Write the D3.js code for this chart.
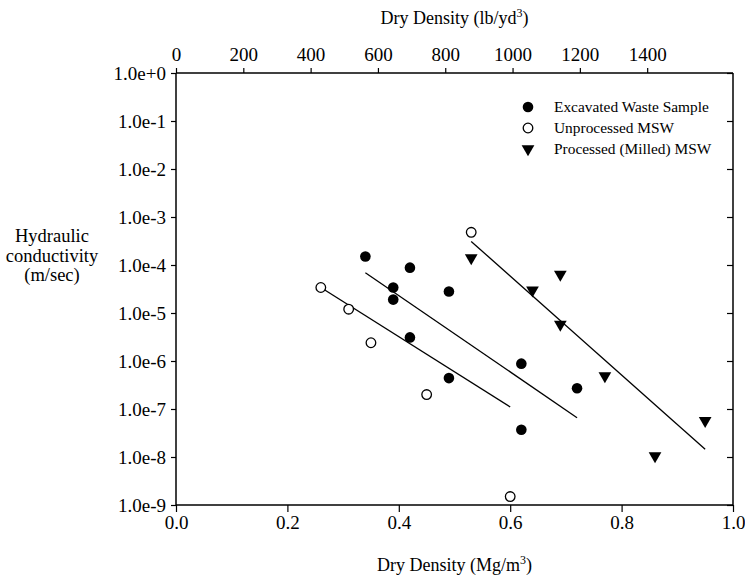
<!DOCTYPE html>
<html>
<head>
<meta charset="utf-8">
<script src="https://cdn.jsdelivr.net/npm/d3@7"></script>
<style>
  html, body { margin: 0; padding: 0; background: #fff; }
  svg { display: block; }
  text { font-family: "Times New Roman", "Liberation Serif", serif; fill: #000; }
</style>
</head>
<body>
<svg id="chart" width="745" height="579"></svg>
<script>
// ---------- data ----------
const excavatedX = [0.34, 0.39, 0.39, 0.42, 0.42, 0.49, 0.49, 0.62, 0.62, 0.72];
const excavatedY = [1.5e-4, 3.4e-5, 1.9e-5, 8.8e-5, 3.1e-6, 2.8e-5, 4.4e-7, 8.8e-7, 3.7e-8, 2.7e-7];

const unprocessedX = [0.26, 0.31, 0.35, 0.45, 0.53, 0.60];
const unprocessedY = [3.4e-5, 1.2e-5, 2.4e-6, 2.0e-7, 4.8e-4, 1.5e-9];

const processedX = [0.53, 0.64, 0.69, 0.69, 0.77, 0.86, 0.95];
const processedY = [1.4e-4, 3.0e-5, 6.4e-5, 5.8e-6, 4.9e-7, 1.05e-8, 5.7e-8];

// fitted trend lines (endpoints)
const excavatedFitX = [0.34, 0.72];
const excavatedFitY = [6.9e-5, 6.6e-8];
const unprocessedFitX = [0.26, 0.60];
const unprocessedFitY = [3.4e-5, 1.1e-7];
const processedFitX = [0.53, 0.95];
const processedFitY = [3.1e-4, 1.45e-8];

const xTickValues = [0.0, 0.2, 0.4, 0.6, 0.8, 1.0];
const xTickLabels = ["0.0", "0.2", "0.4", "0.6", "0.8", "1.0"];
const topTickValues = [0, 200, 400, 600, 800, 1000, 1200, 1400];
const yTickValues = [1e0, 1e-1, 1e-2, 1e-3, 1e-4, 1e-5, 1e-6, 1e-7, 1e-8, 1e-9];
const yTickLabels = ["1.0e+0", "1.0e-1", "1.0e-2", "1.0e-3", "1.0e-4", "1.0e-5", "1.0e-6", "1.0e-7", "1.0e-8", "1.0e-9"];

const legendLabels = ["Excavated Waste Sample", "Unprocessed MSW", "Processed (Milled) MSW"];
const yLabelLines = ["Hydraulic", "conductivity", "(m/sec)"];
const TOP_MAX = 1655; // lb/yd^3 at the right edge (1.0 Mg/m^3)

// ---------- layout ----------
const svg = d3.select("#chart");
const m = { left: 176, top: 73, right: 12, bottom: 74 };
const W = 745 - m.left - m.right;   // 557
const H = 579 - m.top - m.bottom;   // 432

const x = d3.scaleLinear().domain([0, 1]).range([m.left, m.left + W]);
const xTop = d3.scaleLinear().domain([0, TOP_MAX]).range([m.left, m.left + W]);
const y = d3.scaleLog().domain([1e-9, 1]).range([m.top + H, m.top]);

const fontSize = 18;
const tickFont = 19;

// axes
const gB = svg.append("g").attr("transform", `translate(0,${m.top + H})`)
  .call(d3.axisBottom(x).tickValues(xTickValues).tickFormat((d, i) => xTickLabels[i]).tickSize(7).tickPadding(4));
const gT = svg.append("g").attr("transform", `translate(0,${m.top})`)
  .call(d3.axisTop(xTop).tickValues(topTickValues).tickFormat(d3.format("d")).tickSize(5).tickPadding(7));
const gL = svg.append("g").attr("transform", `translate(${m.left},0)`)
  .call(d3.axisLeft(y).tickValues(yTickValues).tickFormat((d, i) => yTickLabels[i]).tickSize(5).tickPadding(5));
const gR = svg.append("g").attr("transform", `translate(${m.left + W},0)`)
  .call(d3.axisRight(y).tickValues(yTickValues).tickFormat("").tickSize(-6));

[gB, gT, gL, gR].forEach(g => {
  g.selectAll("path.domain").attr("stroke", "#000").attr("stroke-width", 1.5);
  g.selectAll(".tick line").attr("stroke", "#000").attr("stroke-width", 1.2);
  g.selectAll("text").attr("font-family", null)
    .attr("font-size", tickFont).attr("fill", "#000");
});
gT.select("path.domain").attr("d", `M${m.left},0H${m.left + W}`);
gB.select("path.domain").attr("d", `M${m.left},0H${m.left + W}`);
gL.select("path.domain").attr("d", `M0,${m.top}V${m.top + H}`);
gR.select("path.domain").attr("d", `M0,${m.top}V${m.top + H}`);

// titles
const bt = svg.append("text").attr("x", m.left + W / 2).attr("y", 571)
  .attr("text-anchor", "middle").attr("font-size", fontSize);
bt.append("tspan").text("Dry Density (Mg/m");
bt.append("tspan").attr("font-size", 12).attr("dy", -7).text("3");
bt.append("tspan").attr("dy", 7).text(")");

const tt = svg.append("text").attr("x", m.left + W / 2).attr("y", 24)
  .attr("text-anchor", "middle").attr("font-size", fontSize);
tt.append("tspan").text("Dry Density (lb/yd");
tt.append("tspan").attr("font-size", 12).attr("dy", -7).text("3");
tt.append("tspan").attr("dy", 7).text(")");

const yl = svg.append("text").attr("text-anchor", "middle").attr("font-size", 18.5);
yLabelLines.forEach((s, i) => {
  yl.append("tspan").attr("x", 52).attr("y", 242 + i * 19.5).text(s);
});

// fit lines
const line = d3.line().x(d => x(d[0])).y(d => y(d[1]));
[[excavatedFitX, excavatedFitY], [unprocessedFitX, unprocessedFitY], [processedFitX, processedFitY]]
  .forEach(([xs, ys]) => {
    svg.append("path").datum(xs.map((v, i) => [v, ys[i]]))
      .attr("d", line).attr("fill", "none").attr("stroke", "#000").attr("stroke-width", 1.3);
  });

// markers
const triSym = d3.symbol().type(d3.symbolTriangle).size(70);
function drawTri(g, cx, cy) {
  g.append("path").attr("d", triSym())
    .attr("transform", `translate(${cx},${cy}) rotate(180)`)
    .attr("fill", "#000");
}

svg.append("g").selectAll("circle").data(excavatedX.map((v, i) => [v, excavatedY[i]]))
  .join("circle").attr("cx", d => x(d[0])).attr("cy", d => y(d[1])).attr("r", 5.3).attr("fill", "#000");

svg.append("g").selectAll("circle").data(unprocessedX.map((v, i) => [v, unprocessedY[i]]))
  .join("circle").attr("cx", d => x(d[0])).attr("cy", d => y(d[1])).attr("r", 4.8)
  .attr("fill", "#fff").attr("stroke", "#000").attr("stroke-width", 1.3);

const gTri = svg.append("g");
processedX.forEach((v, i) => drawTri(gTri, x(v), y(processedY[i])));

// legend
const lg = svg.append("g");
const lx = 528, ly0 = 107, ldy = 21;
lg.append("circle").attr("cx", lx).attr("cy", ly0).attr("r", 5.3).attr("fill", "#000");
lg.append("circle").attr("cx", lx).attr("cy", ly0 + ldy).attr("r", 4.8)
  .attr("fill", "#fff").attr("stroke", "#000").attr("stroke-width", 1.3);
drawTri(lg, lx, ly0 + 2 * ldy);
legendLabels.forEach((s, i) => {
  lg.append("text").attr("x", 554).attr("y", ly0 + i * ldy).attr("dy", "0.35em")
    .attr("font-size", 15.4).text(s);
});
</script>
</body>
</html>
